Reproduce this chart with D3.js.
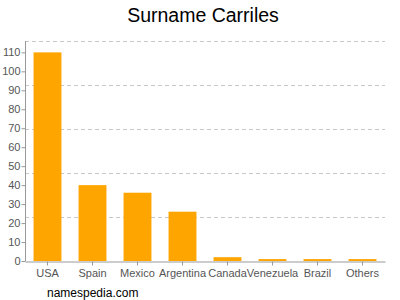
<!DOCTYPE html>
<html>
<head>
<meta charset="utf-8">
<style>
    body { margin: 0; background: #fff; }
    svg { font-family: 'Liberation Sans', Arial, sans-serif; }
</style>
</head>
<body>
<svg width="400" height="300"></svg>
<script src="https://d3js.org/d3.v7.min.js"></script>
<script>
    // data
    let countries = ["USA", "Spain", "Mexico", "Argentina", "Canada", "Venezuela", "Brazil", "Others"]
    let counts = [110, 40, 36, 26, 2, 1, 1, 1]
    let yTicks = [0, 10, 20, 30, 40, 50, 60, 70, 80, 90, 100, 110]

    let svg = d3.select("svg")
    let plotLeft = 25, plotRight = 385, plotTop = 41, plotBottom = 261

    let x = d3.scaleBand()
        .domain(countries)
        .range([plotLeft, plotRight])
        .paddingInner(0.38)
        .paddingOuter(0.19)

    let y = d3.scaleLinear()
        .domain([0, 116])
        .range([plotBottom, plotTop])

    // dashed grid, 5 equal bands
    let grid = d3.range(1, 6).map(i => plotTop + (plotBottom - plotTop) * (i - 1) / 5)
    svg.selectAll(".grid")
        .data(grid)
        .join("line")
        .attr("x1", plotLeft).attr("x2", plotRight)
        .attr("y1", d => d + 0.5).attr("y2", d => d + 0.5)
        .style("stroke", "#c8c8c8")
        .style("stroke-dasharray", "4,3")

    svg.selectAll(".bar")
        .data(countries)
        .join("rect")
        .attr("x", d => x(d))
        .attr("width", x.bandwidth())
        .attr("y", (d, i) => y(counts[i]))
        .attr("height", (d, i) => plotBottom - y(counts[i]))
        .style("fill", "#ffa500")

    let yAxis = svg.append("g")
        .attr("transform", `translate(${plotLeft + 0.5},0)`)
        .call(d3.axisLeft(y).tickValues(yTicks).tickSize(4).tickSizeOuter(0))
    yAxis.select(".domain").attr("d", `M0,${plotTop}V${plotBottom}`)

    let xAxis = svg.append("g")
        .attr("transform", `translate(0,${plotBottom + 0.5})`)
        .call(d3.axisBottom(x).tickSize(4).tickSizeOuter(0))

    svg.selectAll(".domain, .tick line").style("stroke", "#999")
    svg.selectAll(".tick text")
        .style("fill", "#555")
        .style("font-size", "11px")
        .style("font-family", "'Liberation Sans', Arial, sans-serif")
    yAxis.selectAll(".tick text").attr("x", -5)
    xAxis.selectAll(".tick text").attr("y", 8)

    svg.append("text")
        .attr("x", 203).attr("y", 22)
        .attr("text-anchor", "middle")
        .style("font-size", "19.5px")
        .text("Surname Carriles")

    svg.append("text")
        .attr("x", 47).attr("y", 297)
        .style("font-size", "12px")
        .text("namespedia.com")
</script>
</body>
</html>
